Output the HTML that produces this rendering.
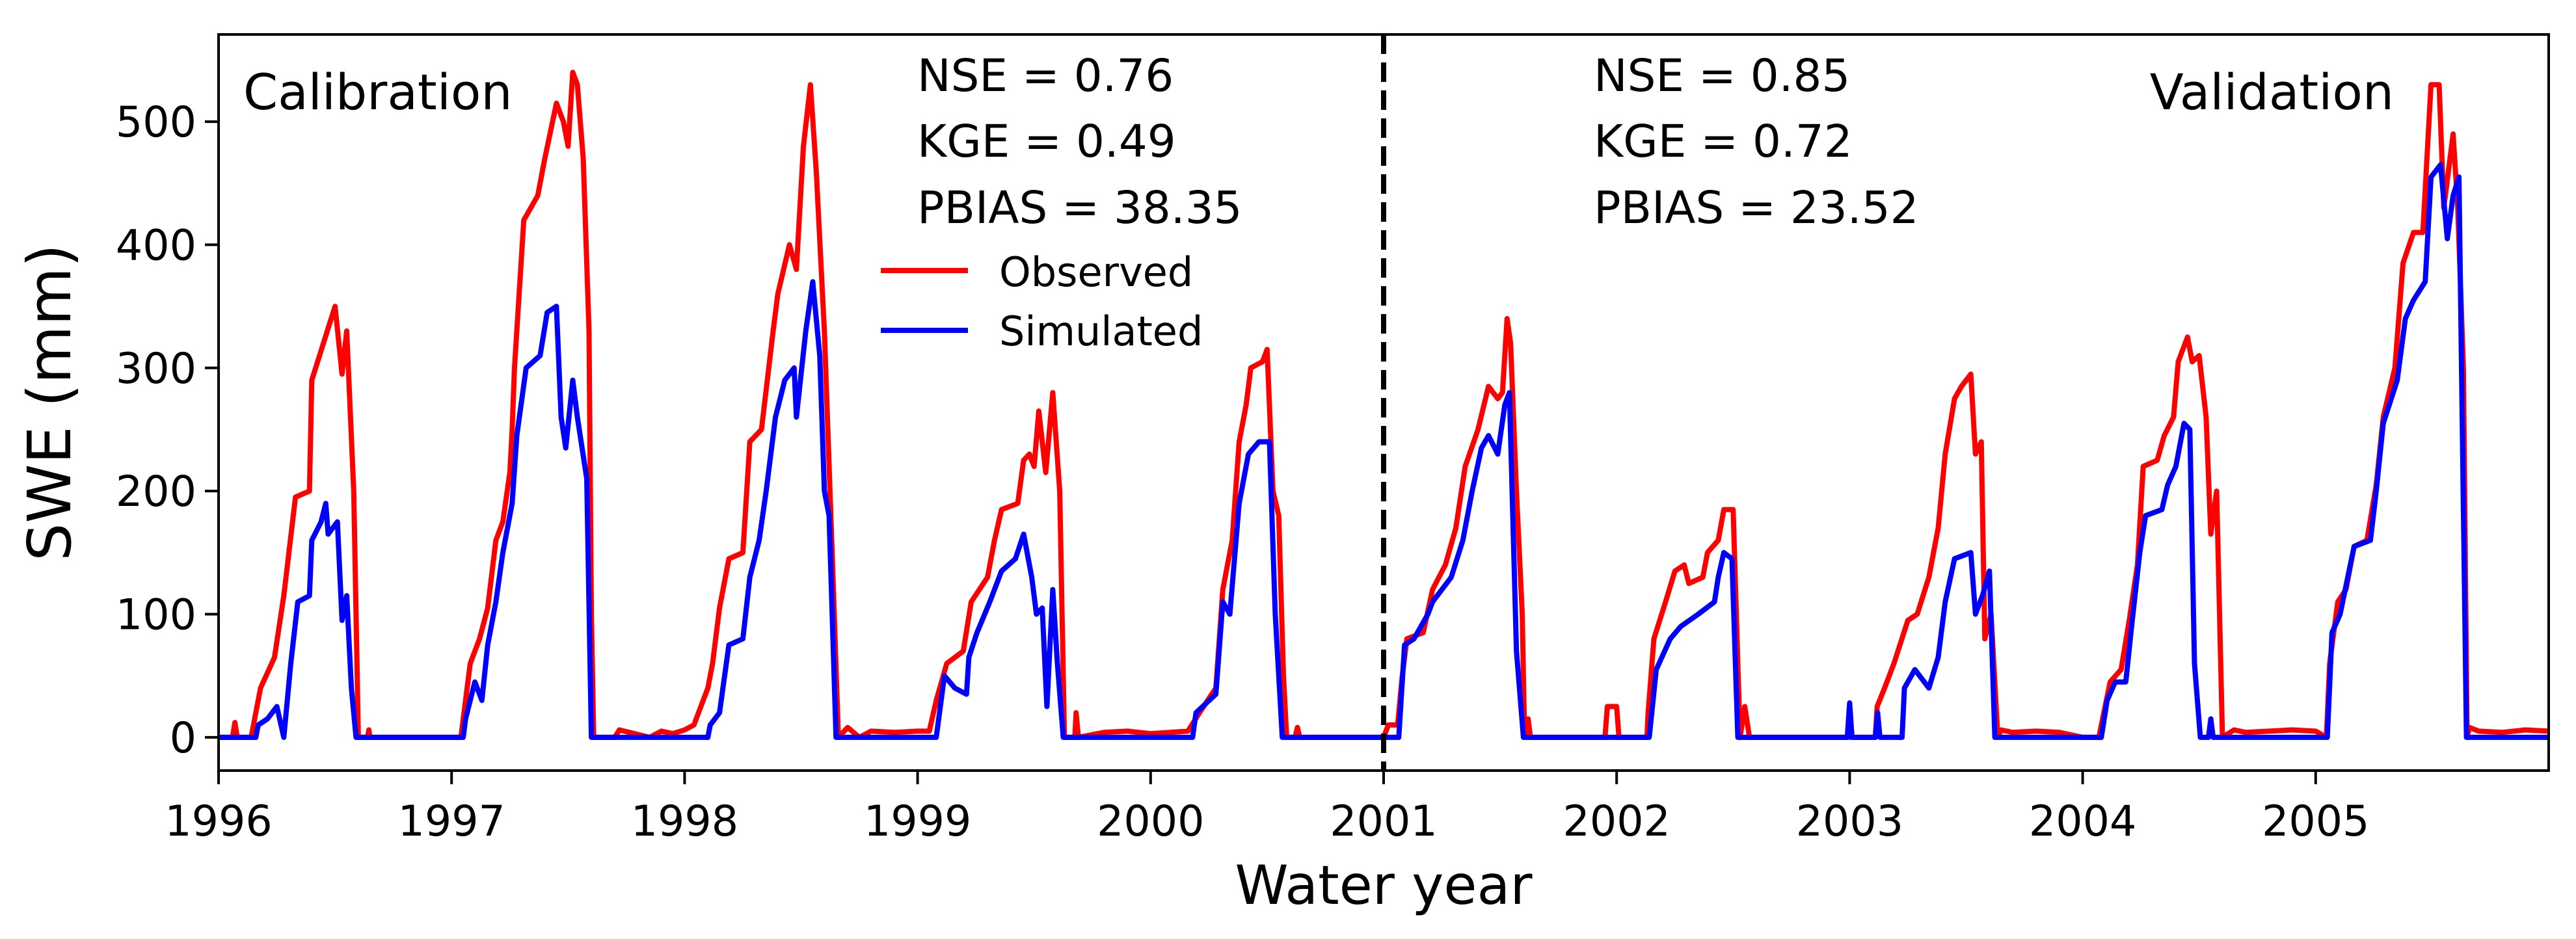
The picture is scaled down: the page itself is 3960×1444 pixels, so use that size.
<!DOCTYPE html>
<html><head><meta charset="utf-8">
<style>
html,body{margin:0;padding:0;background:#fff;}
svg{display:block;}
text{font-family:"DejaVu Sans","Liberation Sans",sans-serif;fill:#000;}
</style></head>
<body>
<svg id="chart" width="3960" height="1444" viewBox="0 0 3960 1444" xmlns="http://www.w3.org/2000/svg">
<rect width="3960" height="1444" fill="#fff"/>
<g id="marks"></g>
<g id="axes"></g>
<text x="374" y="168" font-size="76">Calibration</text>
<text x="3680" y="168" font-size="76" text-anchor="end">Validation</text>
<g font-size="69">
<text x="1410" y="140">NSE = 0.76</text>
<text x="1410" y="241">KGE = 0.49</text>
<text x="1410" y="343">PBIAS = 38.35</text>
</g>
<g font-size="69">
<text x="2450" y="140">NSE = 0.85</text>
<text x="2450" y="241">KGE = 0.72</text>
<text x="2450" y="343">PBIAS = 23.52</text>
</g>
<g>
<line x1="1354" y1="416" x2="1488" y2="416" stroke="#ff0000" stroke-width="8"/>
<text x="1536" y="440" font-size="62">Observed</text>
<line x1="1354" y1="508" x2="1488" y2="508" stroke="#0000ff" stroke-width="8"/>
<text x="1536" y="531" font-size="62">Simulated</text>
</g>
<text transform="translate(108,619) rotate(-90)" font-size="92" text-anchor="middle">SWE (mm)</text>
<text x="2127" y="1390" font-size="83" text-anchor="middle">Water year</text>
</svg>
<script>
const xTicks = [0,1,2,3,4,5,6,7,8,9];
const xTickLabels = ["1996","1997","1998","1999","2000","2001","2002","2003","2004","2005"];
const yTicks = [0,100,200,300,400,500];
const splitYear = 5;
const obsT = [0,0.06,0.07,0.08,0.14,0.15,0.18,0.24,0.28,0.33,0.39,0.40,0.45,0.50,0.53,0.55,0.58,0.60,0.64,0.645,0.65,
1.04,1.05,1.08,1.12,1.155,1.19,1.22,1.25,1.26,1.27,1.31,1.37,1.40,1.45,1.48,1.50,1.52,1.54,1.565,1.59,1.60,1.61,1.7,1.72,1.85,1.9,1.95,2.0,
2.04,2.10,2.12,2.15,2.19,2.25,2.28,2.33,2.38,2.40,2.45,2.48,2.51,2.54,2.565,2.60,2.635,2.66,2.7,2.75,2.8,2.9,3.0,3.05,
3.08,3.125,3.196,3.23,3.30,3.33,3.36,3.43,3.455,3.48,3.50,3.52,3.55,3.58,3.61,3.63,3.675,3.68,3.69,3.8,3.9,4.0,
4.16,4.21,4.28,4.31,4.35,4.38,4.41,4.43,4.48,4.50,4.525,4.55,4.57,4.584,4.62,4.63,4.64,5.0,
5.02,5.06,5.08,5.10,5.17,5.21,5.265,5.31,5.35,5.405,5.45,5.49,5.51,5.53,5.545,5.57,5.595,5.605,5.62,5.63,5.64,5.95,
5.96,6.0,6.01,6.13,6.135,6.16,6.21,6.25,6.29,6.31,6.37,6.39,6.436,6.46,6.50,6.53,6.55,6.57,6.58,7.11,
7.118,7.15,7.19,7.25,7.29,7.34,7.38,7.41,7.45,7.48,7.52,7.54,7.565,7.58,7.607,7.636,7.65,7.7,7.8,7.9,8.0,8.07,
8.08,8.118,8.165,8.20,8.235,8.26,8.32,8.35,8.39,8.41,8.45,8.47,8.50,8.53,8.55,8.575,8.60,8.65,8.7,8.8,8.9,9.0,9.046,
9.06,9.095,9.13,9.165,9.22,9.26,9.29,9.34,9.375,9.42,9.46,9.495,9.53,9.55,9.59,9.61,9.634,9.65,9.66,9.7,9.8,9.9,10];
const obsV = [0,0,12,0,0,10,40,65,115,195,200,290,320,350,295,330,200,0,0,6,0,
0,15,60,80,105,160,175,215,250,300,420,440,470,515,500,480,540,530,470,330,100,0,0,6,0,5,3,6,
10,40,60,105,145,150,240,250,330,360,400,380,480,530,460,330,140,0,8,0,5,4,5,5,
30,60,70,110,130,160,185,190,225,230,220,265,215,280,200,0,0,20,0,4,5,3,
5,20,40,120,160,240,270,300,305,315,200,180,50,0,0,8,0,0,
10,10,50,80,85,120,140,170,220,250,285,275,280,340,320,200,100,0,15,0,0,0,
25,25,0,0,20,80,110,135,140,125,130,150,160,185,185,0,25,0,0,0,
25,40,60,95,100,130,170,230,275,285,295,230,240,80,100,0,6,4,5,4,0,0,
10,45,55,95,140,220,225,245,260,305,325,305,310,260,165,200,0,6,4,5,6,5,0,
60,110,120,155,160,205,260,300,385,410,410,530,530,430,490,430,300,0,8,5,4,6,5];
const simT = [0,0.16,0.17,0.21,0.25,0.28,0.31,0.34,0.39,0.40,0.44,0.46,0.47,0.51,0.53,0.55,0.57,0.59,
1.05,1.06,1.10,1.13,1.155,1.19,1.22,1.26,1.28,1.32,1.38,1.41,1.45,1.47,1.49,1.52,1.54,1.58,1.60,
2.10,2.11,2.15,2.19,2.25,2.28,2.32,2.35,2.39,2.43,2.47,2.48,2.52,2.55,2.58,2.60,2.62,2.65,
3.08,3.115,3.16,3.21,3.22,3.255,3.31,3.36,3.42,3.455,3.49,3.51,3.535,3.555,3.58,3.60,3.625,
4.18,4.195,4.28,4.31,4.34,4.38,4.42,4.465,4.51,4.535,4.565,
5.065,5.09,5.13,5.19,5.21,5.29,5.34,5.38,5.42,5.45,5.49,5.52,5.54,5.57,5.60,
6.14,6.17,6.23,6.275,6.35,6.42,6.436,6.46,6.495,6.52,
6.99,7.0,7.01,7.11,7.12,7.13,7.225,7.235,7.28,7.34,7.38,7.41,7.45,7.52,7.54,7.57,7.60,7.623,
8.08,8.105,8.14,8.185,8.21,8.245,8.27,8.34,8.365,8.40,8.435,8.46,8.48,8.505,8.54,8.55,8.56,
9.05,9.07,9.105,9.165,9.235,9.26,9.29,9.35,9.385,9.42,9.47,9.495,9.536,9.565,9.59,9.615,9.647,10];
const simV = [0,0,10,15,25,0,60,110,115,160,175,190,165,175,95,115,40,0,
0,15,45,30,75,110,150,190,245,300,310,345,350,260,235,290,260,210,0,
0,10,20,75,80,130,160,200,260,290,300,260,330,370,310,200,180,0,
0,50,40,35,65,85,110,135,145,165,130,100,105,25,120,60,0,
0,20,35,110,100,190,230,240,240,100,0,
0,75,80,100,110,130,160,200,235,245,230,270,280,70,0,
0,55,80,90,100,110,130,150,145,0,
0,28,0,0,20,0,0,40,55,40,65,110,145,150,100,115,135,0,
0,30,45,45,90,150,180,185,205,220,255,250,60,0,0,15,0,
0,85,100,155,160,200,255,290,340,355,370,455,465,405,440,455,0,0];

const L=336,R=3918,T=53,B=1185,X0=0,X1=10,Y0=-27,Y1=570.8;
const sx=t=>L+(t-X0)/(X1-X0)*(R-L);
const sy=v=>B-(v-Y0)/(Y1-Y0)*(B-T);
const NS="http://www.w3.org/2000/svg";
const marks=document.getElementById('marks');
const axes=document.getElementById('axes');
function mk(tag,attrs,parent){const e=document.createElementNS(NS,tag);for(const k in attrs)e.setAttribute(k,attrs[k]);parent.appendChild(e);return e;}
function series(ts,vs,color,name){
  const pts=ts.map((t,i)=>sx(t).toFixed(1)+','+sy(vs[i]).toFixed(1)).join(' ');
  const p=mk('polyline',{points:pts,fill:'none',stroke:color,'stroke-width':8,'stroke-linejoin':'round'},marks);
  
  
}
series(obsT,obsV,'#ff0000','observed-line');
series(simT,simV,'#0000ff','simulated-line');
const dl=mk('line',{x1:sx(splitYear),x2:sx(splitYear),y1:T,y2:B,stroke:'#000','stroke-width':8,'stroke-dasharray':'30,13'},marks);


const fr=mk('rect',{x:L,y:T,width:R-L,height:B-T,fill:'none',stroke:'#000','stroke-width':4},axes);


xTicks.forEach((t,i)=>{
  const x=sx(t);
  const tk=mk('line',{x1:x,x2:x,y1:B,y2:B+21,stroke:'#000','stroke-width':4},axes);
  
  
  const tx=mk('text',{x:x,y:1285,'font-size':65,'text-anchor':'middle'},axes);
  tx.textContent=xTickLabels[i];
  
  
});
yTicks.forEach(v=>{
  const y=sy(v);
  const tk=mk('line',{x1:L-21,x2:L,y1:y,y2:y,stroke:'#000','stroke-width':4},axes);
  
  
  const tx=mk('text',{x:L-34,y:y+23,'font-size':65,'text-anchor':'end'},axes);
  tx.textContent=String(v);
  
  
});
</script>
</body></html>
